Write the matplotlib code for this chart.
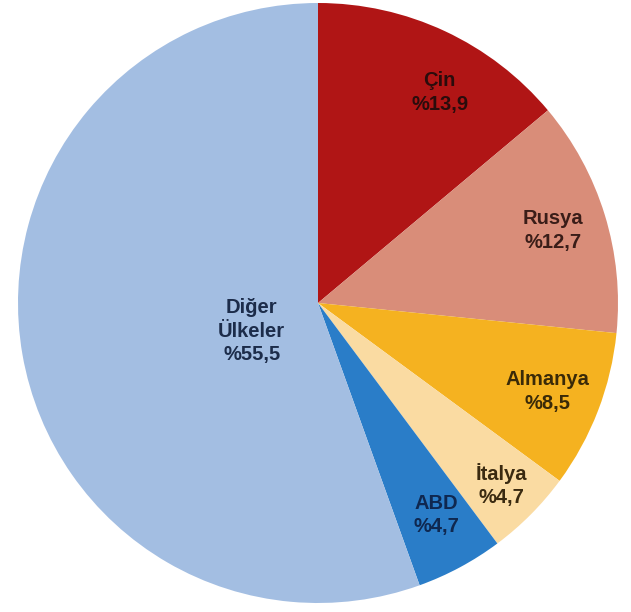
import numpy as np
import matplotlib
matplotlib.use('Agg')
import matplotlib.pyplot as plt

countries = ['Çin', 'Rusya', 'Almanya', 'İtalya', 'ABD', 'Diğer\nÜlkeler']
shares = [13.9, 12.7, 8.5, 4.7, 4.7, 55.5]
share_labels = ['%13,9', '%12,7', '%8,5', '%4,7', '%4,7', '%55,5']

colors = ['#B01515', '#D98D79', '#F5B220', '#FADBA2', '#2A7DC8', '#A3BEE2']
text_colors = ['#2a0c0c', '#3a1d18', '#3a2a08', '#3a2a10', '#0f2850', '#1c2c4a']
label_radius = [0.81, 0.82, 0.82, 0.86, 0.81, 0.24]
angle_shift = [-5, 0, 0, 0, 1, 13]   # degrees, nudges from wedge middle

W, H = 631, 612
fig = plt.figure(figsize=(W / 100, H / 100), dpi=100)
cx, cy, r = 318, 303, 300
ax = fig.add_axes([(cx - r) / W, (H - cy - r) / H, 2 * r / W, 2 * r / H])

wedges, _ = ax.pie(shares, colors=colors, startangle=90, counterclock=False,
                   radius=1.0, wedgeprops=dict(linewidth=0))
ax.set_xlim(-1, 1)
ax.set_ylim(-1, 1)
ax.set_aspect('equal')
ax.axis('off')

for i, w in enumerate(wedges):
    mid = np.deg2rad((w.theta1 + w.theta2) / 2 + angle_shift[i])
    x = label_radius[i] * np.cos(mid)
    y = label_radius[i] * np.sin(mid)
    ax.text(x, y, f'{countries[i]}\n{share_labels[i]}', ha='center', va='center',
            fontsize=14.5, fontweight='bold', family='Liberation Sans',
            color=text_colors[i], linespacing=1.3)

fig.savefig('out.png', dpi=100)
